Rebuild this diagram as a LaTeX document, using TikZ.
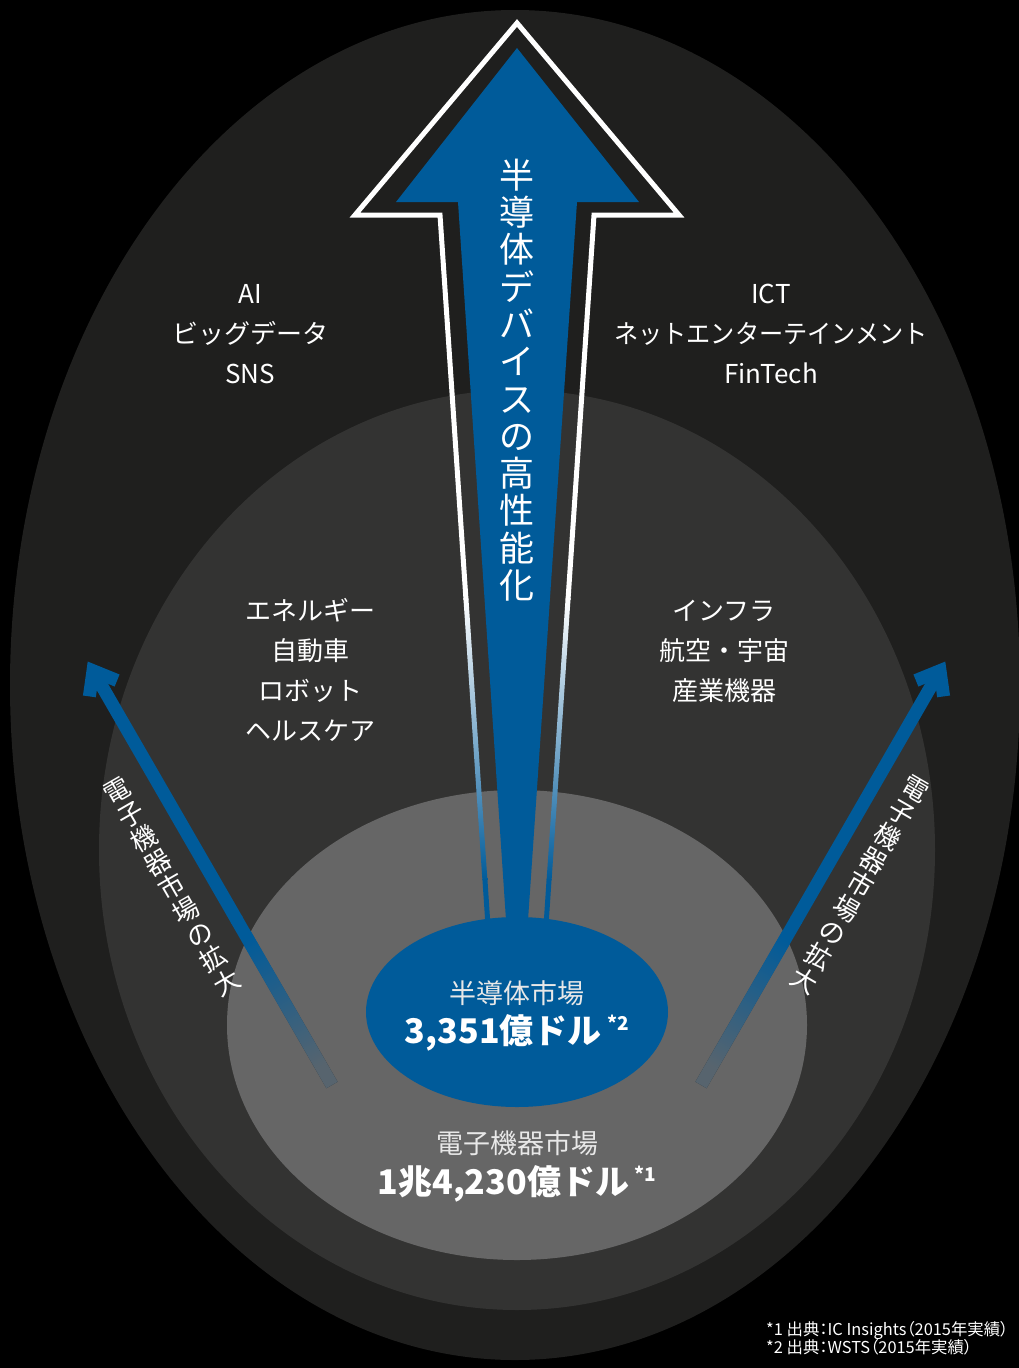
\documentclass[tikz,border=0pt]{standalone}
\usepackage{fontspec}
\setmainfont{Noto Sans CJK JP}
\newfontfamily\jpp[RawFeature=+palt]{Noto Sans CJK JP}
\definecolor{outerc}{RGB}{31,31,30}
\definecolor{midc}{RGB}{51,51,50}
\definecolor{lightc}{RGB}{102,102,102}
\definecolor{mblue}{RGB}{0,91,154}
\definecolor{lav}{RGB}{184,196,228}
\definecolor{fadedark}{RGB}{43,56,65}
\definecolor{fadelight}{RGB}{87,100,110}
\definecolor{softwhite}{RGB}{232,232,232}
\begin{document}
\begin{tikzpicture}[x=1pt,y=-1pt,
  lbl/.style={text=white, font=\fontsize{26}{40}\selectfont, anchor=base, inner sep=0pt},
  vlbl/.style={text=white, align=center, inner sep=0pt},
  bignum/.style={text=white, font=\bfseries\fontsize{34}{40}\selectfont, anchor=base, inner sep=0pt},
  mktlbl/.style={text=softwhite, font=\fontsize{27}{32}\selectfont, anchor=base, inner sep=0pt},
  fnote/.style={text=white, font=\jpp\fontsize{16.4}{20}\selectfont, anchor=base west, inner sep=0pt},
  diagshaft/.style={mblue, line width=13},
  diaghead/.style={mblue, line width=13, line join=miter}]
% canvas
\fill[black] (0,0) rectangle (1019,1368);
\useasboundingbox (0,0) rectangle (1019,1368);
% market ellipses
\fill[outerc] (515,685) ellipse [x radius=505, y radius=675];
\fill[midc] (517,850) ellipse [x radius=418, y radius=460];
\fill[lightc] (517,1025) ellipse [x radius=290, y radius=235];
% left diagonal arrow
\shade[top color=mblue, bottom color=fadedark, shading angle=30]
  (337.6,1081.75) -- (242.0,916.05) -- (230.8,922.55) -- (326.4,1088.25) -- cycle;
\begin{scope}
  \clip (517,1025) ellipse [x radius=290, y radius=235];
  \shade[top color=mblue, bottom color=fadelight, shading angle=30]
    (337.6,1081.75) -- (242.0,916.05) -- (230.8,922.55) -- (326.4,1088.25) -- cycle;
\end{scope}
\coordinate (lm) at (237.2,920.6);
\coordinate (lv) at (93,670.7);
\draw[diagshaft] (lm) -- (lv);
\draw[diaghead] (89.4,696.4) -- (lv) -- (117.1,680.5);
% right diagonal arrow
\shade[top color=mblue, bottom color=fadedark, shading angle=-30]
  (695.4,1081.75) -- (791.0,916.05) -- (802.2,922.55) -- (706.6,1088.25) -- cycle;
\begin{scope}
  \clip (517,1025) ellipse [x radius=290, y radius=235];
  \shade[top color=mblue, bottom color=fadelight, shading angle=-30]
    (695.4,1081.75) -- (791.0,916.05) -- (802.2,922.55) -- (706.6,1088.25) -- cycle;
\end{scope}
\coordinate (rm) at (795.8,920.6);
\coordinate (rv) at (940,670.7);
\draw[diagshaft] (rm) -- (rv);
\draw[diaghead] (943.6,696.4) -- (rv) -- (915.9,680.5);
% big arrow outline
\draw[white, line width=5, line join=miter]
  (466.0,600) -- (440,215) -- (355,215) -- (517,23) -- (679,215) -- (594,215) -- (568.0,600);
\shade[top color=white, middle color=lav, bottom color=mblue]
  (463.4,598) -- (468.4,598) -- (487.4,880) -- (482.4,880) -- cycle;
\fill[mblue] (482.4,879) -- (487.4,879) -- (491.1,935) -- (486.1,935) -- cycle;
\shade[top color=white, middle color=lav, bottom color=mblue]
  (565.6,598) -- (570.6,598) -- (551.6,880) -- (546.6,880) -- cycle;
\fill[mblue] (546.6,879) -- (551.6,879) -- (547.9,935) -- (542.9,935) -- cycle;
% big arrow body
\fill[mblue] (517,48) -- (639,202) -- (577,202) -- (527,935) -- (507,935) -- (458,202) -- (396,202) -- cycle;
% semiconductor ellipse
\fill[mblue] (517,1012) ellipse [x radius=151, y radius=95];
% vertical text in arrow
\node[vlbl, font=\fontsize{35}{37.3}\selectfont] (vt) at (517,380)
  {半\\導\\体\\デ\\バ\\イ\\ス\\の\\高\\性\\能\\化};
% rotated labels
\node[vlbl, font=\fontsize{26}{27.6}\selectfont, rotate=30] (lexp) at (172,887)
  {電\\子\\機\\器\\市\\場\\の\\拡\\大};
\node[vlbl, font=\fontsize{26}{27.6}\selectfont, rotate=-30] (rexp) at (860,885)
  {電\\子\\機\\器\\市\\場\\の\\拡\\大};
% application labels
\node[lbl] (ai) at (250,303) {AI};
\node[lbl] (bigdata) at (250,343) {ビッグデータ};
\node[lbl] (sns) at (250,383) {SNS};
\node[lbl] (ict) at (771,303) {ICT};
\node[lbl] (net) at (771,343) {\scalebox{0.93}[1]{ネットエンターテインメント}};
\node[lbl] (fintech) at (771,383) {FinTech};
\node[lbl] (energy) at (310,620) {エネルギー};
\node[lbl] (car) at (310,660) {自動車};
\node[lbl] (robot) at (310,700) {ロボット};
\node[lbl] (health) at (310,740) {ヘルスケア};
\node[lbl] (infra) at (724,620) {インフラ};
\node[lbl] (aero) at (724,660) {航空・宇宙};
\node[lbl] (industry) at (724,700) {産業機器};
% market values
\node[mktlbl] (semi) at (517,1003) {半導体市場};
\node[bignum] (semival) at (517,1043) {3,351億ドル\,\raisebox{13pt}{\fontsize{19}{19}\selectfont *2}};
\node[mktlbl] (elec) at (517,1153) {電子機器市場};
\node[bignum] (elecval) at (517,1194) {1兆4,230億ドル\,\raisebox{13pt}{\fontsize{19}{19}\selectfont *1}};
% footnotes
\node[fnote] (fn1) at (766,1335) {*1 出典：IC Insights（2015年実績）};
\node[fnote] (fn2) at (766,1353) {*2 出典：WSTS（2015年実績）};
\end{tikzpicture}
\end{document}
